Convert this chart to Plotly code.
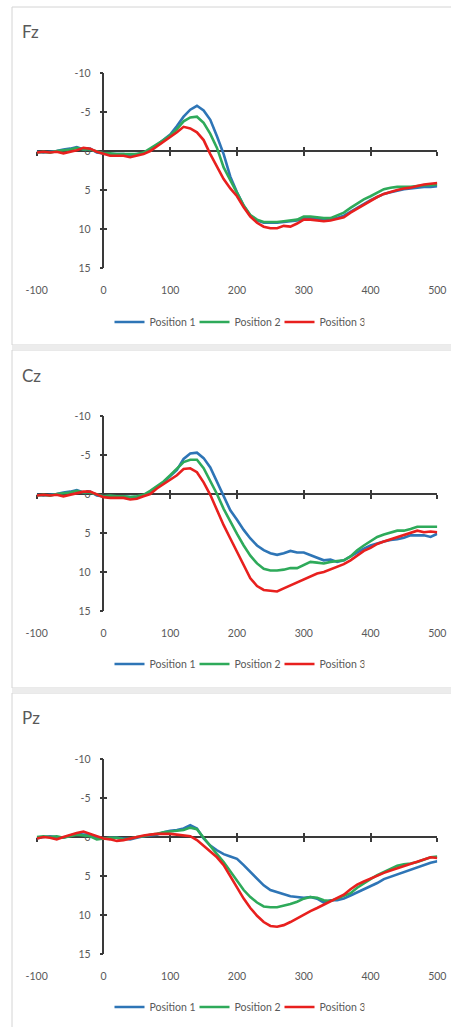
import plotly.graph_objects as go

W, H = 451, 1027

# ---------------- data (µV, negative up) ----------------
ms = list(range(-100, 501, 10))

fz_p1 = [0.1, 0.2, 0.1, 0.0, -0.2, -0.3, -0.5, -0.2, -0.3, 0.2,
         0.3, 0.4, 0.4, 0.4, 0.5, 0.4, 0.3, -0.1, -0.8, -1.4,
         -2.1, -3.2, -4.4, -5.3, -5.8, -5.2, -4.0, -1.9, 0.4, 3.3,
         5.3, 7.0, 8.3, 8.9, 9.2, 9.2, 9.2, 9.1, 9.0, 8.9,
         8.6, 8.6, 8.7, 8.8, 8.8, 8.6, 8.3, 7.8, 7.2, 6.7,
         6.3, 5.9, 5.5, 5.3, 5.1, 4.9, 4.8, 4.7, 4.6, 4.6, 4.5]
fz_p2 = [0.2, 0.1, 0.2, 0.0, -0.1, -0.2, -0.4, -0.2, -0.2, 0.1,
         0.3, 0.3, 0.4, 0.4, 0.4, 0.4, 0.2, -0.3, -0.9, -1.4,
         -2.0, -2.8, -3.8, -4.3, -4.4, -3.6, -2.2, -0.4, 2.1, 3.8,
         5.3, 7.0, 8.2, 8.8, 9.1, 9.1, 9.1, 9.0, 8.9, 8.8,
         8.4, 8.4, 8.5, 8.6, 8.6, 8.3, 7.9, 7.3, 6.7, 6.2,
         5.8, 5.3, 4.9, 4.7, 4.6, 4.6, 4.6, 4.5, 4.4, 4.4, 4.3]
fz_p3 = [0.2, 0.1, 0.2, 0.1, 0.3, 0.1, -0.1, -0.4, -0.3, 0.1,
         0.4, 0.6, 0.6, 0.6, 0.8, 0.6, 0.4, 0.0, -0.6, -1.2,
         -1.7, -2.4, -3.1, -2.9, -2.4, -1.4, 0.4, 2.0, 3.6, 4.8,
         5.8, 7.2, 8.4, 9.2, 9.7, 9.9, 9.9, 9.6, 9.7, 9.3,
         8.8, 8.8, 8.9, 9.0, 8.9, 8.7, 8.5, 7.9, 7.4, 6.8,
         6.3, 5.9, 5.5, 5.2, 5.0, 4.8, 4.7, 4.5, 4.3, 4.2, 4.1]

cz_p1 = [0.1, 0.2, 0.1, 0.0, -0.2, -0.3, -0.5, -0.2, -0.3, 0.2,
         0.3, 0.3, 0.3, 0.3, 0.4, 0.4, 0.2, -0.2, -0.9, -1.5,
         -2.3, -3.1, -4.5, -5.2, -5.3, -4.6, -3.4, -1.5, 0.3, 2.1,
         3.3, 4.6, 5.7, 6.6, 7.2, 7.6, 7.8, 7.6, 7.3, 7.5,
         7.5, 7.8, 8.1, 8.5, 8.4, 8.7, 8.5, 8.0, 7.4, 7.0,
         6.6, 6.3, 6.1, 5.9, 5.8, 5.6, 5.3, 5.3, 5.3, 5.5, 5.1]
cz_p2 = [0.2, 0.1, 0.2, 0.0, -0.1, -0.2, -0.4, -0.2, -0.2, 0.1,
         0.3, 0.2, 0.3, 0.3, 0.4, 0.3, 0.1, -0.4, -1.0, -1.6,
         -2.4, -3.2, -4.1, -4.4, -4.4, -3.3, -1.7, 0.0, 1.9, 3.6,
         5.1, 6.6, 7.9, 8.9, 9.6, 9.8, 9.8, 9.7, 9.5, 9.5,
         9.1, 8.7, 8.8, 8.9, 8.7, 8.6, 8.5, 8.0, 7.2, 6.6,
         6.1, 5.5, 5.2, 4.9, 4.7, 4.7, 4.5, 4.2, 4.2, 4.2, 4.2]
cz_p3 = [0.2, 0.1, 0.2, 0.1, 0.3, 0.1, -0.1, -0.3, -0.3, 0.1,
         0.4, 0.5, 0.5, 0.5, 0.7, 0.6, 0.3, 0.0, -0.7, -1.3,
         -1.9, -2.4, -3.2, -3.3, -2.8, -1.5, 0.1, 2.1, 4.0, 5.7,
         7.4, 9.1, 10.8, 11.8, 12.3, 12.4, 12.5, 12.1, 11.7, 11.4,
         11.0, 10.5, 10.2, 10.0, 9.7, 9.4, 9.0, 8.5, 7.9, 7.3,
         6.9, 6.4, 6.1, 5.8, 5.5, 5.3, 5.0, 4.7, 4.9, 4.8, 4.9]

pz_p1 = [0.2, 0.0, -0.1, 0.0, 0.1, -0.2, -0.4, -0.3, -0.3, 0.0,
         0.2, 0.1, 0.1, 0.2, 0.3, 0.1, -0.1, -0.2, -0.3, -0.6,
         -0.8, -0.9, -1.1, -1.5, -1.1, 0.2, 1.1, 1.7, 2.2, 2.5,
         2.8, 3.6, 4.5, 5.4, 6.2, 6.8, 7.1, 7.4, 7.6, 7.7,
         7.8, 7.7, 7.9, 8.4, 8.1, 8.1, 7.9, 7.5, 7.1, 6.8,
         6.3, 5.9, 5.4, 5.1, 4.8, 4.4, 4.1, 3.8, 3.5, 3.3, 3.1]
pz_p2 = [0.0, -0.1, 0.0, -0.1, 0.1, -0.1, -0.3, -0.2, -0.1, 0.3,
         0.2, 0.1, 0.1, 0.3, 0.2, 0.0, -0.1, -0.3, -0.4, -0.6,
         -0.7, -0.8, -0.9, -1.2, -1.0, 0.1, 1.2, 2.2, 3.2, 4.4,
         5.6, 6.8, 7.7, 8.4, 8.9, 9.0, 9.0, 8.8, 8.6, 8.3,
         7.9, 7.7, 7.8, 8.1, 8.2, 7.9, 7.5, 7.2, 6.5, 5.9,
         5.4, 4.9, 4.5, 4.1, 3.7, 3.5, 3.4, 3.2, 2.9, 2.6, 2.5]
pz_p3 = [0.2, 0.0, 0.1, 0.3, 0.0, -0.3, -0.5, -0.7, -0.4, -0.1,
         0.2, 0.3, 0.5, 0.4, 0.2, 0.0, -0.2, -0.3, -0.4, -0.4,
         -0.4, -0.3, -0.2, -0.1, 0.4, 1.1, 1.8, 2.6, 3.6, 5.0,
         6.5, 7.9, 9.1, 10.1, 10.9, 11.4, 11.5, 11.3, 10.9, 10.4,
         9.9, 9.5, 9.1, 8.7, 8.3, 7.9, 7.4, 6.7, 6.1, 5.7,
         5.3, 4.9, 4.6, 4.3, 4.0, 3.7, 3.5, 3.2, 2.9, 2.6, 2.7]

titles = ["Fz", "Cz", "Pz"]
series_names = ["Position 1", "Position 2", "Position 3"]
panel_data = [(fz_p1, fz_p2, fz_p3), (cz_p1, cz_p2, cz_p3), (pz_p1, pz_p2, pz_p3)]

x_ticks = [-100, 0, 100, 200, 300, 400, 500]
x_line_ticks = [-100, 100, 200, 300, 400, 500]
y_ticks = [-10, -5, 0, 5, 10, 15]
y_tick_text = ["-10", "-5", "0", "5", "10", "15"]

# ---------------- styling / geometry ----------------
COLORS = ["#2E75B6", "#2EAA5A", "#E8201E"]
TXT = "#595959"
AX = "#3a3a3a"
FONT = "Lato"

X_L, X_R = 36.7, 437.3          # px for -100 / 500
PLOT_TOP = [73, 416, 759]       # px of -10
PLOT_H = 195                    # px from -10 to 15
LEGEND_Y = [322, 664, 1007]
TITLE_Y = [32, 375, 717]
BOX = [(7, 345), (350, 688), (693, 1040)]

def fx(px):
    return px / W

def fy(px):
    return 1 - px / H

xdom = [fx(X_L), fx(X_R)]
x0_paper = fx(X_L + (X_R - X_L) * (0 - (-100)) / 600)

fig = go.Figure()
layout = dict(width=W, height=H, margin=dict(l=0, r=0, t=0, b=0, autoexpand=False),
              paper_bgcolor="white", plot_bgcolor="rgba(0,0,0,0)",
              font=dict(family=FONT, color=TXT, size=10), showlegend=True)
shapes = []
annotations = []

for (t, b) in BOX:
    shapes.append(dict(type="rect", xref="paper", yref="paper",
                       x0=fx(12), x1=fx(470), y0=fy(b), y1=fy(t),
                       line=dict(color="#d4d4d4", width=1), fillcolor="white", layer="below"))
for (b, t) in [(345, 350), (688, 693)]:
    shapes.append(dict(type="rect", xref="paper", yref="paper",
                       x0=fx(12), x1=fx(470), y0=fy(t), y1=fy(b),
                       line=dict(width=0), fillcolor="#ececec", layer="below"))

def xn(k):
    return "x" if k == 1 else f"x{k}"
def yn(k):
    return "y" if k == 1 else f"y{k}"
def xkey(k):
    return "xaxis" if k == 1 else f"xaxis{k}"
def ykey(k):
    return "yaxis" if k == 1 else f"yaxis{k}"

for i in range(3):
    xa, xb, xc = 3 * i + 1, 3 * i + 2, 3 * i + 3
    ya, yb = 2 * i + 1, 2 * i + 2

    top = PLOT_TOP[i]
    ydom = [fy(top + PLOT_H), fy(top)]
    zero_paper = fy(top + PLOT_H * 10 / 25)
    leg = "legend" if i == 0 else f"legend{i + 1}"

    for s in range(3):
        fig.add_trace(go.Scatter(x=ms, y=panel_data[i][s], mode="lines",
                                 name=series_names[s], legend=leg,
                                 line=dict(color=COLORS[s], width=2.6),
                                 xaxis=xn(xa), yaxis=yn(ya), hoverinfo="skip"))
    for (xx, yy) in [(xb, ya), (xc, ya), (xa, yb)]:
        fig.add_trace(go.Scatter(x=[], y=[], xaxis=xn(xx), yaxis=yn(yy),
                                 showlegend=False, hoverinfo="skip"))

    common_x = dict(domain=xdom, range=[-100, 500], showgrid=False, zeroline=False,
                    fixedrange=True, automargin=False)
    layout[xkey(xa)] = dict(**common_x, anchor=yn(ya), showline=False,
                            tickvals=x_ticks, ticktext=[str(v) for v in x_ticks],
                            ticks="outside", ticklen=12, tickcolor="rgba(0,0,0,0)",
                            tickfont=dict(family=FONT, size=10.5, color=TXT))
    layout[xkey(xb)] = dict(**common_x, anchor="free", position=zero_paper,
                            overlaying=xn(xa), showline=True, linecolor=AX, linewidth=1.5,
                            tickvals=x_line_ticks, ticks="outside", ticklen=4,
                            tickwidth=1.5, tickcolor=AX, showticklabels=False,
                            layer="below traces")
    layout[xkey(xc)] = dict(**common_x, anchor="free", position=zero_paper,
                            overlaying=xn(xa), showline=False,
                            tickvals=x_line_ticks, ticks="inside", ticklen=4,
                            tickwidth=1.5, tickcolor=AX, showticklabels=False,
                            layer="below traces")
    common_y = dict(range=[15, -10], showgrid=False, zeroline=False, fixedrange=True,
                    automargin=False)
    layout[ykey(ya)] = dict(**common_y, domain=ydom, anchor="free", position=x0_paper,
                            showline=True, linecolor=AX, linewidth=1.5,
                            tickvals=y_ticks, ticktext=y_tick_text,
                            ticks="outside", ticklen=3, tickwidth=1.5, tickcolor=AX,
                            ticklabelstandoff=7,
                            tickfont=dict(family=FONT, size=10.5, color=TXT),
                            layer="below traces")
    layout[ykey(yb)] = dict(**common_y, anchor="free", position=x0_paper,
                            overlaying=yn(ya), showline=False,
                            tickvals=[-10, -5, 5, 10, 15], ticks="inside", ticklen=3,
                            tickwidth=1.5, tickcolor=AX, showticklabels=False,
                            layer="below traces")

    layout[leg] = dict(orientation="h", x=fx(237), xanchor="center",
                       y=fy(LEGEND_Y[i]), yanchor="middle",
                       font=dict(family=FONT, size=10.5, color=TXT),
                       bgcolor="rgba(0,0,0,0)", itemwidth=30, entrywidth=40,
                       traceorder="normal")

    annotations.append(dict(text=titles[i], xref="paper", yref="paper",
                            x=fx(20), y=fy(TITLE_Y[i]), xanchor="left", yanchor="middle",
                            showarrow=False, font=dict(family=FONT, size=17, color=TXT)))

layout["shapes"] = shapes
layout["annotations"] = annotations
fig.update_layout(**layout)
fig.write_html("out.html", config={"displayModeBar": False},
               post_script="document.body.style.margin='0';document.body.style.overflow='hidden';")
